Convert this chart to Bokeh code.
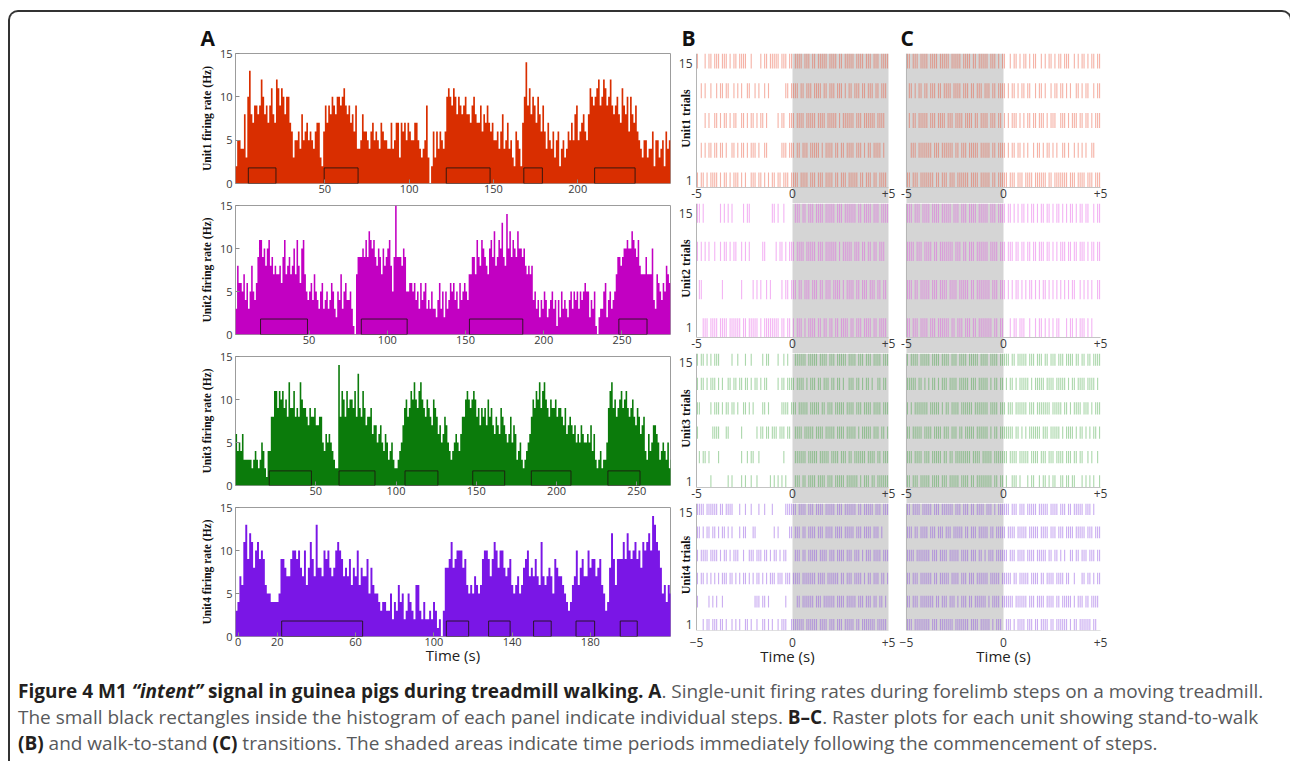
import numpy as np
from bokeh.plotting import figure
from bokeh.models import FixedTicker, BoxAnnotation, Div, Spacer, Range1d
from bokeh.layouts import column, row
from bokeh.embed import file_html
from bokeh.resources import INLINE
from bokeh.core.properties import value


def hex_rates(s):
    """one hex digit per 1-s bin (0..f = 0..15 Hz)"""
    return [int(c, 16) for c in s.replace(" ", "")]


def spike_rows(rows):
    """each row: 100 slots of 0.1 s from -5 s to +5 s, '|' = spike"""
    out = []
    for r in rows:
        s = r.replace(" ", "")
        out.append([round(-5 + 0.1 * i + 0.05, 3) for i, c in enumerate(s) if c == "|"])
    return out


# ---------------- Panel A : firing rates (Hz) per 1-s bin ----------------
U1_RATE = hex_rates("2554483 ad879989ca8979b87 cb9ba8aa7 6355648567565467732 "
                    "69798a98aa9ab9897869 4458665467565476554474577376 757655775434593 "
                    "0263646546 aba9ba8a989a8879a877968797 67556468457453265427 "
                    "ae9b8a97a869 647546356245346575895678658 ba9abc9acb9ac989a87b98a6a879 "
                    "65435534462553452645")
U2_RATE = hex_rates("38665746358546 9bb9a8ab897877869b78978a7b86ab7 54564754356345346532547356445310 "
                    "7999a9b9cbab98a97a89ab859f9998a95 566564536456343533246352534656453645654 "
                    "77997b98ba987ab9c89bad98eac9ba9caa9a87878 "
                    "45342435423453414253432453545354565524351023356245345 "
                    "79989aabaacba9b87779777a43765465876")
U3_RATE = hex_rates("64546333332343235421 4488bb9bab9a8c99b898ca9987988977885465654322 "
                    "e8ba8b9aa9b8d98b978896775675465345322 34579a89baca9bca98a987a98675687543456 "
                    "54688aba9aba8979897a897687698765685763453234 "
                    "568a9bac9bca98a99a899879678767565765565746323423 "
                    "359bc9a89ab9ab989a879867843645776534543523")
U4_RATE = hex_rates("3476bd9cb8ab9 a96554444 5998779aa9a87a68b97d887a9a878aba97879687a687795 "
                    "8655434433524364523543266324223243120 3889b89aaa8965657656 "
                    "9aa979ba8aa87896567568 9a787976b767875987765434 67a68977a89978965348c969 "
                    "99b9ca9ab9a8babcaedba856465")
RATE_T0 = [-3, 3, 0, -1.4]          # time (s) of first bin edge
A_XRANGE = [(-3, 255), (3, 281), (0, 271), (-1.4, 221)]
A_XTICKS = [[50, 100, 150, 200], [50, 100, 150, 200, 250], [50, 100, 150, 200, 250],
            [0, 20, 60, 100, 140, 180]]
RATE_TICKS = [0, 5, 10, 15]

# steps (black rectangles): start / end times (s)
U1_STEP_START = [4.6, 49.6, 122, 168, 210]
U1_STEP_END = [21, 69.7, 148, 179, 234]
U2_STEP_START = [19, 83.4, 152.5, 248]
U2_STEP_END = [49, 112.7, 186.6, 266]
U3_STEP_START = [21, 64.5, 105.6, 147.8, 184.3, 232]
U3_STEP_END = [47.3, 86.9, 126.1, 167.7, 209, 252]
U4_STEP_START = [22.2, 106.4, 128, 151, 172.7, 195.3]
U4_STEP_END = [63.6, 117.8, 139, 160, 182.2, 204]
STEP_HEIGHT = [1.8, 1.8, 1.7, 1.8]

UNIT_NAMES = ["Unit1", "Unit2", "Unit3", "Unit4"]

# ---------------- Panels B / C : rasters (rows: trial 15 at top ... trial 1 at bottom) -------------
U1_STAND_TO_WALK = spike_rows([
    "|...|.||.| ||.|||.|.| |.||||..|. ...|.||.|| |||.|||.|| .||||.|||. ||.|||||.| |||.||.||| ||.||||.|| |.|||.||||",
    "..|.|..|.. |.||.||..| .|.|..||.. |.|..|.|.. ......||.| |||.||.||| .||||.||.| ||.|||.|.| |.|||.||.| ||.||.|||.",
    "....|.|..| |.|.||.|.| |..||.|.|| .|.||.|... ..|.||..|| |.||||.||| ||.||||.|| |||.|.|||| ||.|||.||| |||.||||..",
    "..|.|.||.| |.||.|..|| .|.||.|.|| |.|..||... ....|||.|| |.||.|||.| ||||.|.||| |.||.||.|| ||.|||.|.| |.||||.|..",
    "|.||.|.||| |.|.||.|.| ||.|.|..|| |.||.|.|.| |.||.|||.| |||.||||.| ||.|||.||| |.||.|||.| ||||.||.|| |.||.||||.",
])
U1_WALK_TO_STAND = spike_rows([
    "||.|||.||| |.||||.||| ||.|||||.| |||.||.||| ||.|||.|.| |..|.||.|. ||.|.||..| .|.||.|.|| .|||..|.|. ||.|.||.||",
    ".||.|.||.| |.|||.||.| |||.||||.| ||.||.|||. |||.||.||| |.|.||.|.| |.||..|.|| .|..|.||.| |.|.|..||. |.||..|.||",
    ".|.||.|||| |.|||.|||| .|||.||||. ||||.||.|| ||.|||.||. |.|.|||.|. |.||.||.|| |.|.|||..| ||.|.|||.| |.||.|.|||",
    "..|||.|||| |||.|||.|| ||||.||.|| |.|||||.|| |||.||.||| |.|.||.||. |.|..|.||. |.||.|.|.. ||.|..|.|. |.|..||...",
    "||.|||.||| ||||.||.|| |.|||.|||| ||.||||.|| |||.||.||| ||.|||.||| .||||.|||| ||.||.|||| |||.|||.|| ||.|||.|||",
])
U2_STAND_TO_WALK = spike_rows([
    "||.|...... ..|.|.|.|. ....|.||.. .........| |.|..|.... .|||.||.|| |.||||.||| ||.|||.||| |||.||.||| |.|||.||||",
    "|.|.|.|..| ..|.||.|.| |..|.|.|.. ....||.... .|.||.|.|| |.||||.||| ||.|||.||| |||.|.|||| |.|||.||.| |.||.|||..",
    ".||....... ...|...... ...|.....| .|.|..|.|. ....|.||.| ||.||.|||. |||.||.||| .||||.|.|| ||.||.|||. |||.||.||.",
    "...|||.||| |.||||.||| |||.||.||| ||.|.||||| |||.||.||. |.|||.|.|| ||.||.||.| |.||.||||. ||.|||.||| |.||.||||.",
])
U2_WALK_TO_STAND = spike_rows([
    "|||.|||.|| ||.||||.|| |||.|||.|| |.||||.||| ||.|||.||| |.||.|.|.| |.|.||.|.| |.||.|.||. |.|.||.|.| |.||..|.||",
    "||||.|||.| |||.||.||| ||||.|||.| |.|||.|||| ||.||||.|| |.|||.||.| |.||.||.|| |.||.|.|.| ||.||.||.| ||.|.||.||",
    "|||.||.||| ||.|||.||| |.||||.||| ||.||.|||| |||.|||.|| |.|.|.||.| .|.||.|.|. ||.|.|.|.| .|.|.||..| .|.|.|..||",
    "||.|||.||| |.|||.|||| ||.||.|||. |||.||.||| ||||.||.|| ...|.||.|| |..|..|.|| .|.|.|.||. ..|.||.|.| ||.|.|....",
])
U3_STAND_TO_WALK = spike_rows([
    "|.||.|.|.| ||......|. .|...|..|. ....|.||.. ..|..|.|.. .||||||.|| |||.||||.| ||.|||||.| |||.|||.|| |.||||.|||",
    "|.||.|.||| .|.|..||.| |.||.||.|. ||.|.||... ..|.||.||| |.||||.|.| ||.||.|||. ||.||.|..| ||.||.|.|| .|..||.||.",
    "||.....|.| ||.|.||.|| .|..||.|.| ....||.|.. ....||||.| ||.|||||.| ||||.||.|| |.|||||.|| ||.|||.||| |.||||.|||",
    "|.......|| ||...||... ...|...... .|.||.||.| ||.|||.||. .||||.|||| |.||||.||| ||.||||.|| |||.|.|||| |.|||.||.|",
    ".|.||.|... .|........ ...|..|.|| ..|....... .....|.... .||||||.|| |||.|||||. ||||.|||.| |.||||||.| |||.||.|||",
    ".......|.. ......|.|. ...|.|..|. .|......|. |.|.|.|... .|||.||.|| ||.||||.|| |.|||||.|| ||||.|.||| .||.||||||",
])
U3_WALK_TO_STAND = spike_rows([
    "|.||||.||| ||.||||.|| ||.|||.||| |.|||||.|| ||.||||.|| |||.||.||| ||.|||.||| .||.|||.|| |.||||.||. ||.||.||||",
    "|||||.||.| .|.||.|.|| |.||||.||| ||.|||.||| ||.|.||.|| .|.||.|.|| |||.|.|||| |.||||.||| ||.|.||.|| ||.||||.|.",
    "|.|.|||||| |.|||||.|. ||.||||.|| ||||.||||| ||.||||.|| |.|||.|||| ||.|||.||| ||||.||||| .||.|.|||| .|||.|.|||",
    "||.|||||.| |||.||||.| ||.|||.||. |||||.|||| ||.|.||.|| |||||.||.| .|.||||||. |||.|||||. |.||||.|.| |.|.|.||.|",
    "|||.||||.| ||.|||||.| |.||.||||| |||.||||.| ||||.||||| ||.||||.|| |||.||||.| ||.|||.||| |.|||.||.| |..|.|..|.",
    "||.|||.||| ||.||||.|| |.|||||.|| ||.||.|||| ||||.||.|| .|..|||.|. ..|.||..|. ||.|.||..| |.||.||... |.|.|.|..|",
])
U4_STAND_TO_WALK = spike_rows([
    "||||.||||| |.||.||||. ..|..|..|. ..|..|...| ......|||| ||.||||.|| |.||||.||| ||.|||.||| |||.||.||| ||.|||.|||",
    "||.|.||.|| .|.||.|.|. ..|.||...| |......... |.|.....|| .|||.||.|| ||.|||.||| |.||||.||| ||.|||.||| |.|||.|...",
    "|.||||.||| |.|.||.|.| ||..|..||| .|||.||.|. ||.|.||... .|||.||.|| |||.||||.| ||.||||.|| |.|||.|.|| |.||||.|||",
    "|.||.|.|.| .|.|||.||. |.|.||.|.| .||.|.|.|| |.|||.|||. ||||.||||| ||.||||.|| ||||.||.|| |.||||.|.| |.|||.||.|",
    "|.....|.|. |..|...... .......... |||.||.|.. ......|... ..||.||||| |.|||.|||| ||.||||.|| |||.|||.|| |.||.||.|.",
    "...|.||.|| |.||.|..|. |.|..||.|. .|..||.|.| ..|.|||..| ||||||.||| |||.||||.| ||.|||.||| ||.||.|||| |||.|||||.",
])
U4_WALK_TO_STAND = spike_rows([
    "||.||||.|| |||.|||.|| ||||.|||.| ||.||.|||| .|||.|.||| |||.|||.|| |.|||||.|| |||.||||.| ||.||.|||| |.|||.|...",
    "|||.||.||| |.|||.|||. |||.|||||. ||.|||.||| ||.||.|||| |.||||.||| ||.|||||.| |||.|||.|| |.||||.||| ||.|||.|||",
    "||||.||||| ||.|||.||| |.|||||.|| ||.|||.||. |.|||.|||| ||.|||.||| |.||||.||| ||.||.||.| .|..||.||. |||.|||.||",
    "||.|||.||| |||.||.||| ||.||||.|| |.|||.|||| ||.|||||.| ||||.||.|| |||.||||.| |.||||.||| |.||..|... ||.||.|.||",
    "||.|||.||| ||||.||.|| |.|||.|.|| |.||.||||| |.|.||||.| |||||.|||| ||.|||.||| |.||||.||. |||||.|.|| |.||.||||.",
    "|||.|||||| ||.|||.||| ||||.||||| ||.||||.|| |||.|.|||. .|||.|.||| |.|||.||.| |||.||.||| |||.|.||.| |||||.||..",
])
RASTER_XTICKS = [-5, 0, 5]
RASTER_XLABELS = ["-5", "0", "+5"]
TRIAL_TICKS = [15, 1]
TRIAL_LABELS = ["15", "1"]

CAPTION = ('<b style="color:#231f20">Figure 4 M1 <i>\u201cintent\u201d</i> signal in guinea pigs during treadmill walking. A</b>. '
           'Single-unit firing rates during forelimb steps on a moving treadmill.<br>'
           'The small black rectangles inside the histogram of each panel indicate individual steps. '
           '<b style="color:#231f20">B\u2013C</b>. Raster plots for each unit showing stand-to-walk<br>'
           '<b style="color:#231f20">(B)</b> and walk-to-stand <b style="color:#231f20">(C)</b> transitions. '
           'The shaded areas indicate time periods immediately following the commencement of steps.')

# ---------------- styles / layout ----------------
FONT = "Open Sans"
SERIF = "Liberation Serif"
HIST_COLORS = ["#d92e00", "#c200c2", "#0b7b0b", "#7a16e6"]
SPIKE_COLORS = ["#e8553a", "#e040e0", "#2e9a2e", "#8a4ae0"]
SPIKE_ALPHA = [0.45, 0.4, 0.4, 0.45]
SHADE = "#d5d5d5"

A_HEIGHTS = [185, 151, 151, 169]
A_TOP = [41, 8, 8, 8]
A_BOTTOM = [14, 14, 14, 32]
R_HEIGHTS = [191, 150, 150, 165]
R_TOP = [41, 0, 0, 0]
R_BOTTOM = [0, 0, 0, 33]
R_FRAME = [150, 150, 150, 132]
R_BLOCK = [134, 134, 134, 132]

RATES = [U1_RATE, U2_RATE, U3_RATE, U4_RATE]
STEPS = [(U1_STEP_START, U1_STEP_END), (U2_STEP_START, U2_STEP_END),
         (U3_STEP_START, U3_STEP_END), (U4_STEP_START, U4_STEP_END)]
ONSET = [U1_STAND_TO_WALK, U2_STAND_TO_WALK, U3_STAND_TO_WALK, U4_STAND_TO_WALK]
OFFSET = [U1_WALK_TO_STAND, U2_WALK_TO_STAND, U3_WALK_TO_STAND, U4_WALK_TO_STAND]


def style_letter(p, letter, offset):
    p.title.text = letter
    p.title.align = "left"
    p.title.offset = offset
    p.title.text_font = FONT
    p.title.text_font_size = "21px"
    p.title.text_font_style = "bold"
    p.title.text_color = "#111111"
    p.title.standoff = 4


def hist_fig(k):
    p = figure(width=494, height=A_HEIGHTS[k], title=("A" if k == 0 else None),
               x_range=Range1d(*A_XRANGE[k]), y_range=Range1d(0, 15),
               min_border_left=55, min_border_right=4, min_border_top=A_TOP[k],
               min_border_bottom=A_BOTTOM[k], toolbar_location=None, output_backend="svg")
    if k == 0:
        style_letter(p, "A", -35)
    rate = np.array(RATES[k], dtype=float)
    edges = RATE_T0[k] + np.arange(len(rate) + 1)
    xs = np.repeat(edges, 2)
    ys = np.concatenate([[0.0], np.repeat(rate, 2), [0.0]])
    p.patch(xs, ys, fill_color=HIST_COLORS[k], line_color=None)
    st, en = STEPS[k]
    p.quad(left=st, right=en, bottom=0, top=STEP_HEIGHT[k], fill_color=None,
           line_color="#1d1410", line_width=1, line_alpha=0.85)
    p.grid.visible = False
    p.outline_line_color = "#9c9c9c"
    p.background_fill_color = "white"
    for ax in (p.xaxis[0], p.yaxis[0]):
        ax.axis_line_color = None
        ax.major_tick_in = 4
        ax.major_tick_out = 0
        ax.major_tick_line_color = "#8a8a8a"
        ax.minor_tick_line_color = None
        ax.major_label_text_font = FONT
        ax.major_label_text_font_size = "11px"
        ax.major_label_text_color = "#3a3a3a"
    p.xaxis.ticker = FixedTicker(ticks=A_XTICKS[k])
    p.xaxis.major_label_standoff = 1
    p.yaxis.ticker = FixedTicker(ticks=RATE_TICKS)
    p.yaxis.major_label_standoff = 3
    p.yaxis.axis_label = f"{UNIT_NAMES[k]} firing rate (Hz)"
    p.yaxis.axis_label_text_font = SERIF
    p.yaxis.axis_label_text_font_style = "bold"
    p.yaxis.axis_label_text_font_size = "11.5px"
    p.yaxis.axis_label_text_color = "#111111"
    p.yaxis.axis_label_standoff = 4
    if k == 3:
        p.xaxis.axis_label = "Time (s)"
        p.xaxis.axis_label_text_font = FONT
        p.xaxis.axis_label_text_font_size = "15px"
        p.xaxis.axis_label_text_font_style = "normal"
        p.xaxis.axis_label_text_color = "#222222"
        p.xaxis.axis_label_standoff = -4
    return p


def raster_fig(k, panel):
    is_b = panel == "B"
    rows = ONSET[k] if is_b else OFFSET[k]
    n = len(rows)
    s = 14.0 / (n - 1)
    lo, hi = 1 - 0.25 * s, 15 + 0.25 * s
    extra = (R_FRAME[k] - R_BLOCK[k]) / R_BLOCK[k] * (hi - lo)
    if is_b:
        xr = Range1d(-5 - 20 / 19.2, 5 + 10 / 19.2)
        width, mbl, mbr = 224, 2, 0
    else:
        xr = Range1d(-5.41, 5.41)
        width, mbl, mbr = 214, 0, 4
    p = figure(width=width, height=R_HEIGHTS[k], title=(panel if k == 0 else None),
               x_range=xr, y_range=Range1d(lo - extra, hi),
               min_border_left=mbl, min_border_right=mbr, min_border_top=R_TOP[k],
               min_border_bottom=R_BOTTOM[k], toolbar_location=None, output_backend="svg")
    if k == 0:
        style_letter(p, panel, 5 if is_b else 2)
    p.grid.visible = False
    p.outline_line_color = None
    p.yaxis.visible = False
    shade = BoxAnnotation(left=0 if is_b else -5, right=5 if is_b else 0,
                          fill_color=SHADE, fill_alpha=1.0, line_color=None, level="underlay")
    p.add_layout(shade)
    x0, y0, y1 = [], [], []
    for r, times in enumerate(rows):
        yc = 15 - r * s
        for t in times:
            x0.append(t)
            y0.append(yc - 0.25 * s)
            y1.append(yc + 0.25 * s)
    p.segment(x0=x0, y0=y0, x1=x0, y1=y1, line_color=SPIKE_COLORS[k],
              line_alpha=SPIKE_ALPHA[k], line_width=1.1)
    # axis lines of the raster block
    p.segment(x0=[-5], y0=[lo], x1=[-5], y1=[hi], line_color="#b4b4b4", line_width=1)
    p.segment(x0=[-5], y0=[lo], x1=[5], y1=[lo], line_color="#c4c4c4", line_width=1)
    if k < 3:
        p.xaxis.visible = False
        p.text(x=RASTER_XTICKS, y=[lo] * 3, text=RASTER_XLABELS, text_align="center",
               text_baseline="top", y_offset=1, text_font=value(FONT), text_font_size="12px",
               text_color="#3a3a3a")
    else:
        ax = p.xaxis[0]
        ax.ticker = FixedTicker(ticks=RASTER_XTICKS)
        ax.major_label_overrides = {5: "+5"}
        ax.axis_line_color = None
        ax.major_tick_line_color = None
        ax.minor_tick_line_color = None
        ax.major_label_standoff = 1
        ax.major_label_text_font = FONT
        ax.major_label_text_font_size = "12px"
        ax.major_label_text_color = "#3a3a3a"
        ax.axis_label = "Time (s)"
        ax.axis_label_text_font = FONT
        ax.axis_label_text_font_size = "15px"
        ax.axis_label_text_font_style = "normal"
        ax.axis_label_text_color = "#222222"
        ax.axis_label_standoff = -4
    if is_b:
        # trial tick labels and unit label, left of the raster's axis line (x = -5 s)
        top_shift = 3 if n > 4 else 0
        p.text(x=[-5, -5], y=TRIAL_TICKS, text=TRIAL_LABELS, text_align="right",
               text_baseline="middle", x_offset=-4, y_offset=[top_shift, 0],
               text_font=value(FONT), text_font_size="12px", text_color="#3a3a3a")
        p.text(x=[-5], y=[(lo + hi) / 2], text=[f"{UNIT_NAMES[k]} trials"], angle=np.pi / 2,
               text_align="center", text_baseline="middle", x_offset=-11, y_offset=-2,
               text_font=value(SERIF), text_font_style="bold", text_font_size="12px",
               text_color="#111111")
    return p


col_a = column([hist_fig(k) for k in range(4)], spacing=0)
col_b = column([raster_fig(k, "B") for k in range(4)], spacing=0)
col_c = column([raster_fig(k, "C") for k in range(4)], spacing=0)
panels = row([Spacer(width=170, height=656), col_a, col_b, col_c], spacing=0)

cap = Div(text='<div style="padding:5px 0 0 3px; font-family:\'Open Sans\'; font-size:19px; '
               'line-height:26px; color:#58595b; white-space:nowrap;">' + CAPTION + '</div>',
          width=1270, height=86)

layout = column([panels, cap], spacing=0,
                styles={"margin-left": "8px", "margin-top": "10px",
                        "border-top": "2px solid #333333", "border-left": "2px solid #333333",
                        "border-right": "2px solid #333333", "border-radius": "10px 10px 0 0"})

open("out.html", "w").write(file_html(layout, INLINE))
